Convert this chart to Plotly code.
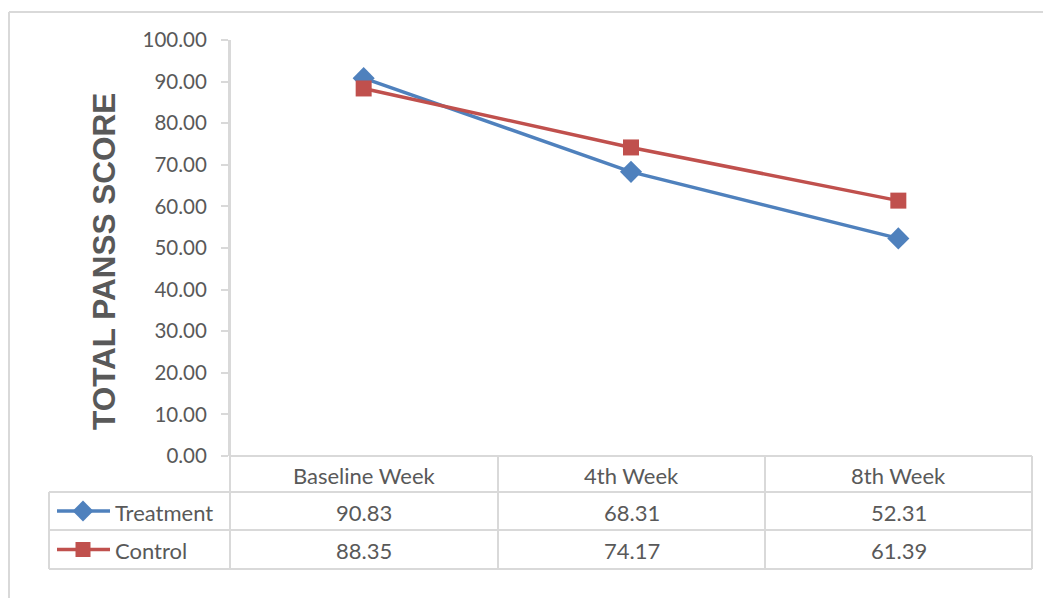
import plotly.graph_objects as go

# Data
weeks = ["Baseline Week", "4th Week", "8th Week"]
treatment = [90.83, 68.31, 52.31]
control = [88.35, 74.17, 61.39]
series_names = ["Treatment", "Control"]
y_ticks = [0, 10, 20, 30, 40, 50, 60, 70, 80, 90, 100]

W, H = 1043, 598
BLUE = "#4F81BD"
RED = "#C0504D"
GRID = "#D9D9D9"
TXT = "#595959"

# Pixel layout helpers
def px(x):
    return x / W

def py(y):
    return 1 - y / H

plot_l, plot_r = 230, 1032
plot_t, plot_b = 40, 456
row_lines = [456, 492, 530, 569]
col_lines = [230, 498, 765, 1032]
table_l = 49

fig = go.Figure()

fig.add_trace(go.Scatter(
    x=weeks, y=treatment, name=series_names[0], mode="lines+markers",
    line=dict(color=BLUE, width=3.5),
    marker=dict(symbol="diamond", size=17, color=BLUE),
    showlegend=False,
))
fig.add_trace(go.Scatter(
    x=weeks, y=control, name=series_names[1], mode="lines+markers",
    line=dict(color=RED, width=3.5),
    marker=dict(symbol="square", size=16, color=RED),
    showlegend=False,
))

# Legend keys inside the data table (pixel-space axes)
key_x = [57, 83, 110]
for i, (col, sym, sz) in enumerate([(BLUE, "diamond", 16), (RED, "square", 15)]):
    yc = (row_lines[i + 1] + row_lines[i + 2]) / 2
    fig.add_trace(go.Scatter(
        x=key_x, y=[yc] * 3, mode="lines", xaxis="x2", yaxis="y2",
        line=dict(color=col, width=3.5), showlegend=False, hoverinfo="skip",
    ))
    fig.add_trace(go.Scatter(
        x=[key_x[1]], y=[yc], mode="markers", xaxis="x2", yaxis="y2",
        marker=dict(symbol=sym, size=sz, color=col), showlegend=False,
        hoverinfo="skip",
    ))

shapes = []
line_style = dict(color=GRID, width=2)
# Outer chart border
shapes.append(dict(type="line", xref="paper", yref="paper",
                   x0=px(9), x1=px(1060), y0=py(12), y1=py(12), line=line_style))
shapes.append(dict(type="line", xref="paper", yref="paper",
                   x0=px(9), x1=px(9), y0=py(12), y1=py(620), line=line_style))
# Table horizontal lines
for i, yl in enumerate(row_lines):
    x0 = plot_l if i == 0 else table_l
    shapes.append(dict(type="line", xref="paper", yref="paper",
                       x0=px(x0), x1=px(plot_r), y0=py(yl), y1=py(yl),
                       line=line_style))
# Table vertical lines
for xl in col_lines:
    y_top = plot_t if xl == plot_l else row_lines[0]
    shapes.append(dict(type="line", xref="paper", yref="paper",
                       x0=px(xl), x1=px(xl), y0=py(y_top), y1=py(row_lines[-1]),
                       line=line_style))
shapes.append(dict(type="line", xref="paper", yref="paper",
                   x0=px(table_l), x1=px(table_l), y0=py(row_lines[1]), y1=py(row_lines[-1]),
                   line=line_style))

annotations = []
cell_font = dict(family="Lato, Open Sans, sans-serif", size=22, color=TXT)
# Header row
for i, wk in enumerate(weeks):
    cx = (col_lines[i] + col_lines[i + 1]) / 2
    annotations.append(dict(x=px(cx), y=py((row_lines[0] + row_lines[1]) / 2 + 1),
                            xref="paper", yref="paper", text=wk, showarrow=False,
                            font=cell_font, xanchor="center", yanchor="middle"))
# Series rows
for r, (name, vals) in enumerate(zip(series_names, [treatment, control])):
    cy = (row_lines[r + 1] + row_lines[r + 2]) / 2 + 1
    annotations.append(dict(x=px(113), y=py(cy), xref="paper", yref="paper",
                            text=name, showarrow=False, font=cell_font,
                            xanchor="left", yanchor="middle"))
    for i, v in enumerate(vals):
        cx = (col_lines[i] + col_lines[i + 1]) / 2
        annotations.append(dict(x=px(cx), y=py(cy), xref="paper", yref="paper",
                                text=f"{v:.2f}", showarrow=False, font=cell_font,
                                xanchor="center", yanchor="middle"))
# Axis title
annotations.append(dict(x=px(104), y=py(262), xref="paper", yref="paper",
                        text="<b>TOTAL PANSS SCORE</b>", textangle=-90,
                        showarrow=False,
                        font=dict(family="Liberation Sans, Arial, sans-serif",
                                  size=31.5, color=TXT),
                        xanchor="center", yanchor="middle"))

fig.update_layout(
    width=W, height=H, autosize=False,
    margin=dict(l=0, r=0, t=0, b=0, pad=0, autoexpand=False),
    paper_bgcolor="white", plot_bgcolor="rgba(0,0,0,0)",
    xaxis=dict(domain=[px(plot_l), px(plot_r)], type="category",
               showticklabels=False, showline=False, showgrid=False,
               zeroline=False, range=[-0.5, 2.5], fixedrange=True,
               automargin=False, anchor="y"),
    yaxis=dict(domain=[py(plot_b), py(plot_t)], range=[0, 100],
               tickvals=y_ticks, ticktext=[f"{t:.2f}" for t in y_ticks],
               showgrid=False, zeroline=False, showline=True,
               linecolor=GRID, linewidth=2, ticks="outside", ticklen=7,
               tickcolor=GRID, tickwidth=2,
               tickfont=dict(family="Lato, Open Sans, sans-serif", size=20.5, color=TXT),
               ticklabelstandoff=10, fixedrange=True, automargin=False, anchor="x"),
    xaxis2=dict(domain=[0, 1], range=[0, W], visible=False, anchor="y2",
                fixedrange=True, automargin=False),
    yaxis2=dict(domain=[0, 1], range=[H, 0], visible=False, anchor="x2",
                fixedrange=True, automargin=False),
    shapes=shapes,
    annotations=annotations,
)

fig.write_html("out.html")
